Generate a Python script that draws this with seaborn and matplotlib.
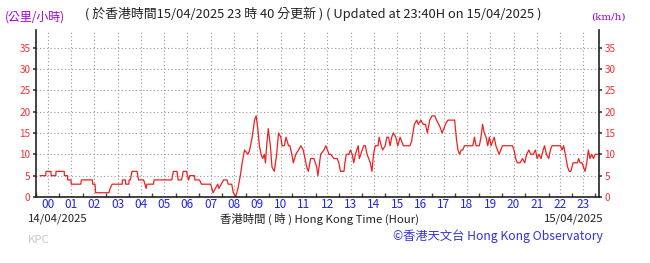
import matplotlib
matplotlib.use("Agg")
import matplotlib.pyplot as plt
import seaborn as sns
import pandas as pd
import numpy as np

# Wind speed (km/h) vs time in hours relative to 00:00 15/04/2025
hours = [-0.33, -0.08, -0.07, 0.14, 0.15, 0.35, 0.36, 0.71, 0.72, 0.85, 0.86, 1.0, 1.01, 1.42,
         1.45, 1.92, 1.93, 2.03, 2.06, 2.63, 2.68, 2.77, 3.20, 3.21, 3.34, 3.35, 3.48, 3.5, 3.55,
         3.62, 3.84, 3.9, 4.12, 4.23, 4.26, 4.54, 4.57, 5.33, 5.36, 5.4, 5.55, 5.6, 5.75, 5.82,
         5.96, 6.05, 6.1, 6.3, 6.32, 6.52, 6.6, 7.0, 7.1, 7.3, 7.35, 7.45, 7.55, 7.7, 7.75, 7.9,
         7.97, 8.07, 8.17, 8.27, 8.35, 8.45, 8.6, 8.67, 8.78, 8.88, 8.95, 9.02, 9.09, 9.16, 9.23,
         9.3, 9.35, 9.4, 9.47, 9.56, 9.63, 9.73, 9.83, 9.91, 10.01, 10.06, 10.16, 10.23, 10.34,
         10.4, 10.48, 10.55, 10.65, 10.77, 10.87, 10.97, 11.05, 11.12, 11.19, 11.29, 11.43, 11.55,
         11.6, 11.72, 11.86,
         11.94, 12.01, 12.08, 12.15, 12.29, 12.43, 12.5, 12.57, 12.72, 12.76, 12.82, 12.93, 13.0,
         13.07, 13.14, 13.21, 13.33, 13.38, 13.5, 13.57, 13.64, 13.71, 13.78, 13.85, 13.92, 13.99,
         14.06, 14.18, 14.23, 14.32, 14.38, 14.49, 14.56, 14.63, 14.7, 14.77, 14.84, 14.94, 15.03,
         15.13, 15.2, 15.27, 15.55, 15.62, 15.74, 15.84, 15.91, 16.02, 16.12, 16.22, 16.3, 16.4,
         16.5, 16.62, 16.69, 16.79, 16.87, 16.93, 17.01, 17.07, 17.18, 17.47, 17.54, 17.61, 17.68,
         17.75, 17.82, 17.89, 18.25, 18.32, 18.39, 18.53, 18.6, 18.67, 18.74, 18.82, 18.89, 18.96,
         19.03, 19.17, 19.24, 19.38, 19.45, 19.52, 19.95, 20.02, 20.09, 20.16, 20.28, 20.38, 20.48,
         20.56, 20.66, 20.73, 20.84, 20.94, 21.01, 21.09, 21.18, 21.27, 21.33, 21.41, 21.51, 21.58,
         21.65, 22.01, 22.08, 22.15, 22.22, 22.32, 22.39, 22.46, 22.55, 22.74, 22.79, 22.86, 22.94,
         23.0, 23.07, 23.14, 23.21, 23.28, 23.35, 23.43, 23.5, 23.64]
speeds = [5, 5, 6, 6, 5, 5, 6, 6, 5, 5, 4, 4, 3, 3,
          4, 4, 3, 3, 1, 1, 2, 3, 3, 4, 4, 3, 3, 4, 4,
          6, 6, 4, 4, 2, 3, 3, 4, 4, 5, 6, 6, 4, 4, 6,
          6, 4, 5, 5, 4, 4, 3, 3, 1, 3, 2, 3, 4, 4, 3, 3,
          1, 0, 2, 5, 8, 11, 10, 11, 14, 18, 19, 16, 12, 10, 9,
          10, 8, 12, 16, 12, 7, 6, 10, 15, 14, 12, 12, 14, 12,
          12, 10, 8, 10, 11, 12, 11, 9, 7, 6, 9, 9, 7,
          5, 10, 11,
          12, 11, 10, 10, 9, 9, 8, 6, 6, 8, 10, 10, 11,
          10, 8, 10, 12, 9, 11, 12, 12, 10, 9, 8, 6, 10,
          12, 12, 14, 12, 11, 12, 14, 14, 12, 14, 15, 14, 12,
          14, 13, 12, 12, 13, 17, 18, 17, 18, 17, 17, 15, 18,
          19, 19, 18, 17, 16, 15, 16, 17, 18, 18, 14, 11, 10,
          11, 11, 12, 12, 14, 12, 12, 14, 17, 15, 14, 12, 14,
          12, 14, 12, 10, 11, 12, 12, 11, 9, 8, 8, 9, 8,
          10, 11, 10, 10, 11, 9, 10, 9, 11, 12, 10, 9, 11,
          12, 12, 11, 12, 10, 7, 6, 6, 8, 8, 9, 8, 8,
          7, 6, 8, 11, 9, 10, 9, 10, 10]

hour_labels = ["%02d" % h for h in range(24)]
y_ticks = [0, 5, 10, 15, 20, 25, 30, 35]

df = pd.DataFrame({"hour": hours, "speed": speeds})

sns.set_theme(style="white")
plt.rcParams['font.family'] = ['Noto Sans CJK TC', 'DejaVu Sans']

fig = plt.figure(figsize=(6.5, 2.63), dpi=100)
ax = fig.add_axes([36/650, 1-197/263, (599-36)/650, (197-30)/263])

sns.lineplot(data=df, x="hour", y="speed", ax=ax, color="#ee2020", linewidth=0.9)

ax.set_xlim(-1/3, 23 + 2/3)
ax.set_ylim(0, 39.1)
ax.set_xticks(range(24))
ax.set_xticklabels(hour_labels, color="#2222ee", fontsize=8.5)
ax.set_xticks(np.arange(-0.5, 24, 1), minor=True)
ax.set_yticks(y_ticks)
ax.set_yticklabels([str(v) for v in y_ticks], color="#ee3333", fontsize=7.2)
ax.tick_params(axis="x", which="major", length=0, pad=1)
ax.tick_params(axis="x", which="minor", direction="in", length=3, color="#444444", bottom=True)
ax.tick_params(axis="y", which="major", direction="out", length=2, left=True, right=True,
               labelleft=True, labelright=True, color="#444444", pad=2)
ax.grid(True, which="major", linestyle=(0, (1, 2.2)), color="#999999", linewidth=0.8)
ax.set_xlabel("")
ax.set_ylabel("")
for s in ["left", "right", "bottom"]:
    ax.spines[s].set_visible(True)
    ax.spines[s].set_color("#222222")
    ax.spines[s].set_linewidth(1.2)
ax.spines["top"].set_visible(False)

fig.text(5/650, 1-17/263, "(公里/小時)", color="#9900dd", fontsize=8.6, va="center", ha="left")
fig.text(85/650, 1-14/263, "( 於香港時間15/04/2025 23 時 40 分更新 ) ( Updated at 23:40H on 15/04/2025 )",
         color="#222222", fontsize=9.3, va="center", ha="left")
fig.text(591/650, 1-17/263, "(km/h)", color="#9900dd", fontsize=7.5, va="center", ha="left",
         family="DejaVu Serif")
fig.text(28/650, 1-219/263, "14/04/2025", color="#222222", fontsize=8.2, va="center", ha="left")
fig.text(320/650, 1-219/263, "香港時間 ( 時 ) Hong Kong Time (Hour)", color="#222222", fontsize=8.2,
         va="center", ha="center")
fig.text(603/650, 1-219/263, "15/04/2025", color="#222222", fontsize=8.2, va="center", ha="right")
fig.text(28/650, 1-240/263, "KPC", color="#c8c8c8", fontsize=8.2, va="center", ha="left")
fig.text(393/650, 1-236/263, "©香港天文台 Hong Kong Observatory", color="#3333dd", fontsize=8.8,
         va="center", ha="left")

fig.savefig("out.png", dpi=100)
